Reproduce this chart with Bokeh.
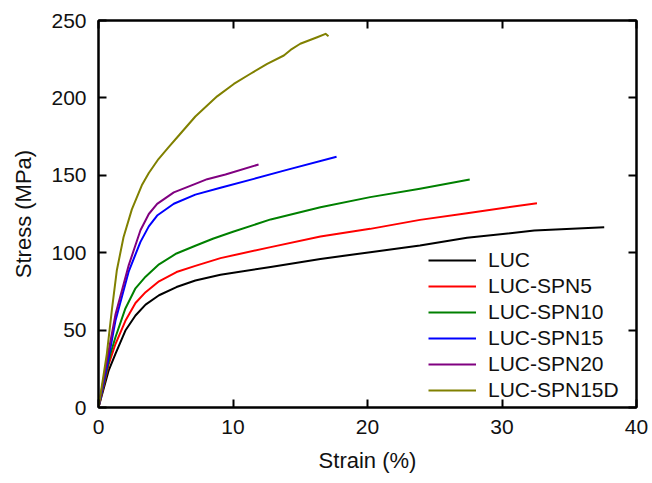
from bokeh.plotting import figure
from bokeh.models import Range1d, LinearAxis, FixedTicker, Legend, LegendItem
from bokeh.embed import file_html
from bokeh.resources import INLINE

# ---- data ----
luc_strain = [0, 0.76, 1.26, 2.0, 2.75, 3.5, 4.5, 5.8, 7.2, 9.07, 12.8, 16.5, 20.2, 23.9, 27.4, 32.4, 37.6]
luc_stress = [0, 24, 34.7, 49.7, 59.4, 66.5, 72.5, 77.8, 82, 85.8, 90.8, 96, 100.3, 104.7, 109.6, 114.3, 116.5]

spn5_strain = [0, 0.76, 1.26, 2.0, 2.75, 3.5, 4.5, 5.8, 7.2, 9.07, 12.8, 16.5, 20.2, 23.9, 27.4, 32.6]
spn5_stress = [0, 28, 41, 56, 67.5, 74.5, 81.5, 87.5, 91.5, 96.5, 103.6, 110.5, 115.4, 121.2, 125.5, 132]

spn10_strain = [0, 0.89, 1.26, 2.0, 2.75, 3.5, 4.5, 5.8, 7.2, 8.5, 10.0, 12.8, 16.5, 20.2, 23.9, 27.6]
spn10_stress = [0, 34.7, 45.4, 64, 77, 84.5, 92.5, 99.5, 104.5, 109, 113.5, 121.5, 129.4, 135.9, 141.3, 147.3]

spn15_strain = [0, 0.76, 1.26, 2.25, 3.12, 3.74, 4.36, 5.6, 7.2, 9.07, 11.55, 14.0, 17.7]
spn15_stress = [0, 32.5, 56, 88, 107, 117, 124, 131.6, 137.5, 142, 147.7, 153.5, 162]

spn20_strain = [0, 0.76, 1.26, 2.25, 3.12, 3.74, 4.36, 5.6, 7.2, 8.08, 9.44, 11.9]
spn20_stress = [0, 36.8, 60, 92, 114.5, 125, 131.5, 139, 144.5, 147.5, 150.5, 157]

spn15d_strain = [0, 0.62, 0.99, 1.36, 1.86, 2.48, 3.22, 3.74, 4.46, 5.2, 5.97, 7.2, 8.82, 10.06,
                 11.3, 12.54, 13.78, 14.28, 15.0, 16.26, 16.88, 17.1]
spn15d_stress = [0, 34.7, 62.7, 88.5, 110, 128, 143.5, 151.5, 160.5, 168, 175.7, 188, 201, 209,
                 215.6, 222, 227.4, 231, 235, 239.2, 241.4, 239.8]

labels = ["LUC", "LUC-SPN5", "LUC-SPN10", "LUC-SPN15", "LUC-SPN20", "LUC-SPN15D"]
colors = ["#000000", "#ff0000", "#008000", "#0000ff", "#800080", "#808000"]
x_ticks = [0, 10, 20, 30, 40]
y_ticks = [0, 50, 100, 150, 200, 250]

series = [
    (luc_strain, luc_stress),
    (spn5_strain, spn5_stress),
    (spn10_strain, spn10_stress),
    (spn15_strain, spn15_stress),
    (spn20_strain, spn20_stress),
    (spn15d_strain, spn15d_stress),
]

FONT = "Liberation Sans"
TXT = "#111111"

p = figure(width=652, height=483, output_backend="svg", toolbar_location=None,
           x_range=Range1d(0, 40), y_range=Range1d(0, 250),
           min_border_left=98, min_border_right=16, min_border_top=20, min_border_bottom=76)
p.grid.visible = False
p.outline_line_color = "#000000"
p.outline_line_width = 2
p.background_fill_color = "white"
p.border_fill_color = "white"

def style_axis(ax, ticks, show_labels):
    ax.ticker = FixedTicker(ticks=ticks)
    ax.axis_line_width = 2
    ax.axis_line_color = "#000000"
    ax.major_tick_in = 8
    ax.major_tick_out = 0
    ax.major_tick_line_width = 2
    ax.major_tick_line_color = "#000000"
    ax.minor_tick_line_color = None
    if show_labels:
        ax.major_label_text_font = FONT
        ax.major_label_text_font_size = "21px"
        ax.major_label_text_color = TXT
        ax.major_label_standoff = 12
        ax.axis_label_text_font = FONT
        ax.axis_label_text_font_size = "22px"
        ax.axis_label_text_font_style = "normal"
        ax.axis_label_text_color = TXT
        ax.axis_label_standoff = 12
    else:
        ax.major_label_overrides = {t: "" for t in ticks}
        ax.major_label_text_font_size = "1px"
        ax.major_label_standoff = 0

style_axis(p.xaxis[0], x_ticks, True)
style_axis(p.yaxis[0], y_ticks, True)
p.xaxis[0].axis_label = "Strain (%)"
p.yaxis[0].axis_label = "Stress (MPa)"
p.xaxis[0].axis_label_standoff = 11

top_ax = LinearAxis()
style_axis(top_ax, x_ticks, False)
p.add_layout(top_ax, "above")
right_ax = LinearAxis()
style_axis(right_ax, y_ticks, False)
p.add_layout(right_ax, "right")

items = []
for (xs, ys), lab, col in zip(series, labels, colors):
    r = p.line(xs, ys, line_color=col, line_width=2, line_join="round")
    items.append(LegendItem(label=lab, renderers=[r]))

legend = Legend(items=items, location=(330, 5))
legend.label_text_font = FONT
legend.label_text_font_size = "21px"
legend.label_text_color = TXT
legend.glyph_width = 48
legend.glyph_height = 20
legend.label_height = 20
legend.spacing = 2
legend.padding = 0
legend.margin = 0
legend.label_standoff = 12
legend.border_line_color = None
legend.background_fill_alpha = 0
p.add_layout(legend)

open("out.html", "w").write(file_html(p, INLINE))
